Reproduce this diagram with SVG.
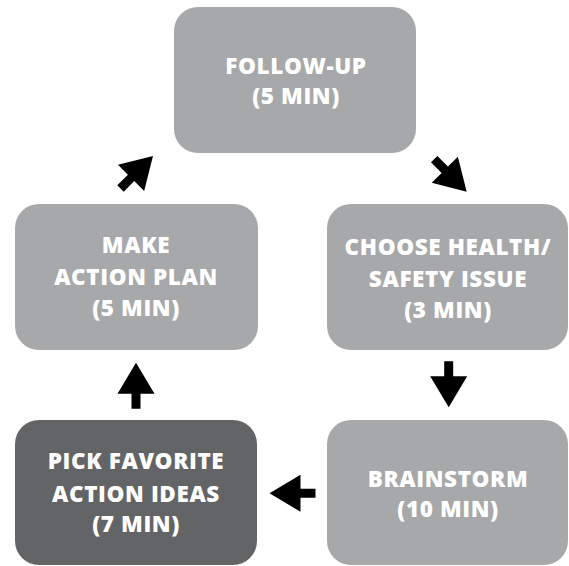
<svg xmlns="http://www.w3.org/2000/svg" width="569" height="566" viewBox="0 0 569 566">
  <style>
    .box { fill: #a7a8aa; }
    .box.dark { fill: #636466; }
    .label { font-family: "Open Sans", "Liberation Sans", sans-serif; font-weight: 800; font-size: 22.5px; letter-spacing: 0.6px; fill: #ffffff; text-anchor: middle; }
    .arrow { fill: #000000; }
  </style>
  <defs>
    <!-- block arrow, tip at the origin, pointing along +x -->
    <path id="block-arrow" d="M0,0 L-31,-18.5 L-31,-4.5 L-46,-4.5 L-46,4.5 L-31,4.5 L-31,18.5 Z"/>
  </defs>
  <rect width="569" height="566" fill="#ffffff"/>

  <g id="follow-up">
    <rect class="box" x="174" y="7" width="242" height="146" rx="24"/>
    <text class="label" x="296" y="74">FOLLOW-UP</text>
    <text class="label" x="296" y="104">(5 MIN)</text>
  </g>

  <g id="choose-issue">
    <rect class="box" x="327" y="204" width="241" height="146" rx="24"/>
    <text class="label" x="448" y="255">CHOOSE HEALTH/</text>
    <text class="label" x="448" y="287">SAFETY ISSUE</text>
    <text class="label" x="448" y="318">(3 MIN)</text>
  </g>

  <g id="brainstorm">
    <rect class="box" x="327" y="420" width="241" height="145" rx="24"/>
    <text class="label" x="448" y="487">BRAINSTORM</text>
    <text class="label" x="448" y="517">(10 MIN)</text>
  </g>

  <g id="pick-ideas">
    <rect class="box dark" x="15" y="420" width="242" height="145" rx="24"/>
    <text class="label" x="136" y="469">PICK FAVORITE</text>
    <text class="label" x="136" y="502">ACTION IDEAS</text>
    <text class="label" x="136" y="532">(7 MIN)</text>
  </g>

  <g id="action-plan">
    <rect class="box" x="15" y="204" width="243" height="146" rx="24"/>
    <text class="label" x="136" y="253">MAKE</text>
    <text class="label" x="136" y="285">ACTION PLAN</text>
    <text class="label" x="136" y="316">(5 MIN)</text>
  </g>

  <g id="connectors" class="arrow">
    <use href="#block-arrow" transform="translate(466.7,191.7) rotate(45)"/>
    <use href="#block-arrow" transform="translate(448.7,407.3) rotate(90)"/>
    <use href="#block-arrow" transform="translate(269.5,493.3) rotate(180)"/>
    <use href="#block-arrow" transform="translate(136,362.7) rotate(-90)"/>
    <use href="#block-arrow" transform="translate(153,156) rotate(-45)"/>
  </g>
</svg>
